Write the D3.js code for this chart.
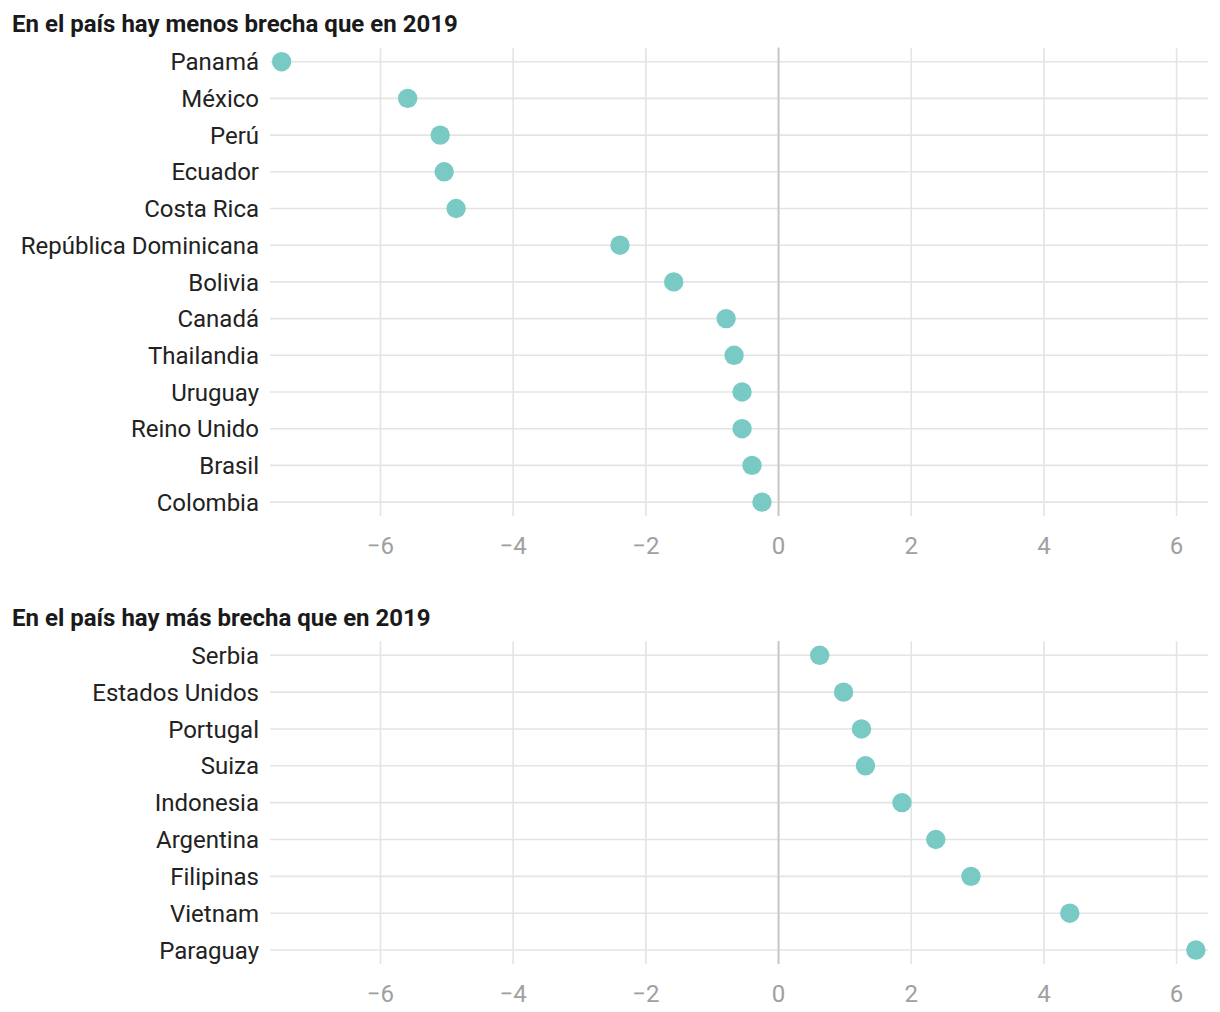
<!DOCTYPE html>
<html>
<head>
<meta charset="utf-8">
<script src="https://cdn.jsdelivr.net/npm/d3@7"></script>
<style>
  html, body { margin: 0; padding: 0; background: #fff; }
  svg { display: block; font-family: Roboto, "Noto Sans", sans-serif; }
</style>
</head>
<body>
<svg id="chart" width="1220" height="1012"></svg>
<script>
// ---- data ----
const titleTop = "En el país hay menos brecha que en 2019";
const countriesTop = ["Panamá", "México", "Perú", "Ecuador", "Costa Rica", "República Dominicana", "Bolivia", "Canadá", "Thailandia", "Uruguay", "Reino Unido", "Brasil", "Colombia"];
const valuesTop = [-7.49, -5.59, -5.10, -5.04, -4.86, -2.39, -1.58, -0.79, -0.67, -0.55, -0.55, -0.40, -0.25];

const titleBottom = "En el país hay más brecha que en 2019";
const countriesBottom = ["Serbia", "Estados Unidos", "Portugal", "Suiza", "Indonesia", "Argentina", "Filipinas", "Vietnam", "Paraguay"];
const valuesBottom = [0.62, 0.98, 1.25, 1.31, 1.86, 2.37, 2.90, 4.39, 6.29];

const tickValues = [-6, -4, -2, 0, 2, 4, 6];
const xDomain = [-7.665, 6.473];

// ---- drawing ----
const svg = d3.select("#chart");
const x = d3.scaleLinear().domain(xDomain).range([270, 1208]);
const fmt = d => d < 0 ? "\u2212" + Math.abs(d) : String(d);

function drawPanel(title, cats, vals, titleY, firstY, step) {
  const g = svg.append("g");
  const lastY = firstY + step * (cats.length - 1);
  const y = d3.scalePoint().domain(cats).range([firstY, lastY]);
  const top = firstY - 14, bottom = lastY + 14;

  g.append("text")
    .attr("x", 12).attr("y", titleY)
    .attr("font-size", 24).attr("font-weight", 700).attr("fill", "#1a1a1a")
    .text(title);

  // vertical grid
  g.selectAll("line.vgrid").data(tickValues).join("line")
    .attr("class", "vgrid")
    .attr("x1", d => x(d)).attr("x2", d => x(d))
    .attr("y1", top).attr("y2", bottom)
    .attr("stroke", d => d === 0 ? "#c6c6c6" : "#e4e4e4")
    .attr("stroke-width", 1.6);

  // horizontal grid
  g.selectAll("line.hgrid").data(cats).join("line")
    .attr("class", "hgrid")
    .attr("x1", x.range()[0]).attr("x2", x.range()[1])
    .attr("y1", d => y(d)).attr("y2", d => y(d))
    .attr("stroke", "#e4e4e4").attr("stroke-width", 1.6);

  // zero line on top of horizontal grid
  g.append("line")
    .attr("x1", x(0)).attr("x2", x(0)).attr("y1", top).attr("y2", bottom)
    .attr("stroke", "#c6c6c6").attr("stroke-width", 1.6);

  // category labels
  g.selectAll("text.cat").data(cats).join("text")
    .attr("class", "cat")
    .attr("x", 259).attr("y", d => y(d)).attr("dy", "0.36em")
    .attr("text-anchor", "end")
    .attr("font-size", 24).attr("fill", "#222")
    .text(d => d);

  // x axis tick labels
  g.selectAll("text.tick").data(tickValues).join("text")
    .attr("class", "tick")
    .attr("x", d => x(d)).attr("y", lastY + 43).attr("dy", "0.36em")
    .attr("text-anchor", "middle")
    .attr("font-size", 24).attr("fill", "#a0a0a0")
    .text(fmt);

  // dots
  g.selectAll("circle").data(cats).join("circle")
    .attr("cx", (d, i) => x(vals[i]))
    .attr("cy", d => y(d))
    .attr("r", 9.7)
    .attr("fill", "#79c9c5");
}

drawPanel(titleTop, countriesTop, valuesTop, 32, 61.7, 36.7);
drawPanel(titleBottom, countriesBottom, valuesBottom, 626, 655.3, 36.84);
</script>
</body>
</html>
